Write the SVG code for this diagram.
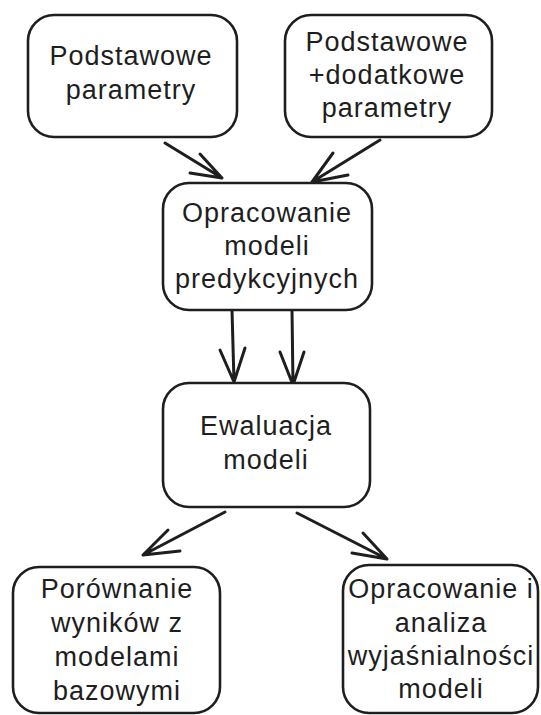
<svg xmlns="http://www.w3.org/2000/svg" width="541" height="715" viewBox="0 0 541 715">
  <style>
    .box { fill: #ffffff; stroke: #1e1e1e; stroke-width: 2.6; }
    .lbl { font-family: "Liberation Sans", "DejaVu Sans", sans-serif; font-size: 27px; letter-spacing: 1px; fill: #1e1e1e; text-anchor: middle; }
    .edge { fill: none; stroke: #1e1e1e; stroke-width: 3; stroke-linecap: round; stroke-linejoin: round; }
  </style>
  <rect width="541" height="715" fill="#ffffff"/>

  <!-- connectors: shaft plus open V head -->
  <g id="connectors">
    <path class="edge" d="M165 143 L222 178 M190 173 L222 178 L200 154"/>
    <path class="edge" d="M380 140 L312 182 M333 153 L312 182 L348 175"/>
    <path class="edge" d="M232 310 L234 382 M220 350 L234 382 L245 348"/>
    <path class="edge" d="M292 310 L293 385 M280 352 L293 385 L304 352"/>
    <path class="edge" d="M225 512 L143 555 M168 530 L143 555 L180 551"/>
    <path class="edge" d="M297 513 L387 559 M363 533 L387 559 L352 553"/>
  </g>

  <g id="node-basic">
    <rect class="box" x="28" y="15" width="209" height="122" rx="26"/>
    <text class="lbl" x="131" y="65">Podstawowe</text>
    <text class="lbl" x="131" y="99">parametry</text>
  </g>

  <g id="node-extended">
    <rect class="box" x="285" y="15" width="207" height="122" rx="26"/>
    <text class="lbl" x="387" y="51">Podstawowe</text>
    <text class="lbl" x="387" y="84">+dodatkowe</text>
    <text class="lbl" x="387" y="117">parametry</text>
  </g>

  <g id="node-build">
    <rect class="box" x="163" y="183" width="209" height="127" rx="26"/>
    <text class="lbl" x="267" y="222">Opracowanie</text>
    <text class="lbl" x="267" y="255">modeli</text>
    <text class="lbl" x="267" y="288">predykcyjnych</text>
  </g>

  <g id="node-eval">
    <rect class="box" x="163" y="383" width="207" height="124" rx="26"/>
    <text class="lbl" x="266" y="435">Ewaluacja</text>
    <text class="lbl" x="266" y="469">modeli</text>
  </g>

  <g id="node-compare">
    <rect class="box" x="13" y="567" width="207" height="146" rx="26"/>
    <text class="lbl" x="117" y="598">Porównanie</text>
    <text class="lbl" x="117" y="632">wyników z</text>
    <text class="lbl" x="117" y="666">modelami</text>
    <text class="lbl" x="117" y="700">bazowymi</text>
  </g>

  <g id="node-explain">
    <rect class="box" x="343" y="565" width="195" height="148" rx="26"/>
    <text class="lbl" x="441" y="598">Opracowanie i</text>
    <text class="lbl" x="441" y="632">analiza</text>
    <text class="lbl" x="441" y="665">wyjaśnialności</text>
    <text class="lbl" x="441" y="698">modeli</text>
  </g>
</svg>
